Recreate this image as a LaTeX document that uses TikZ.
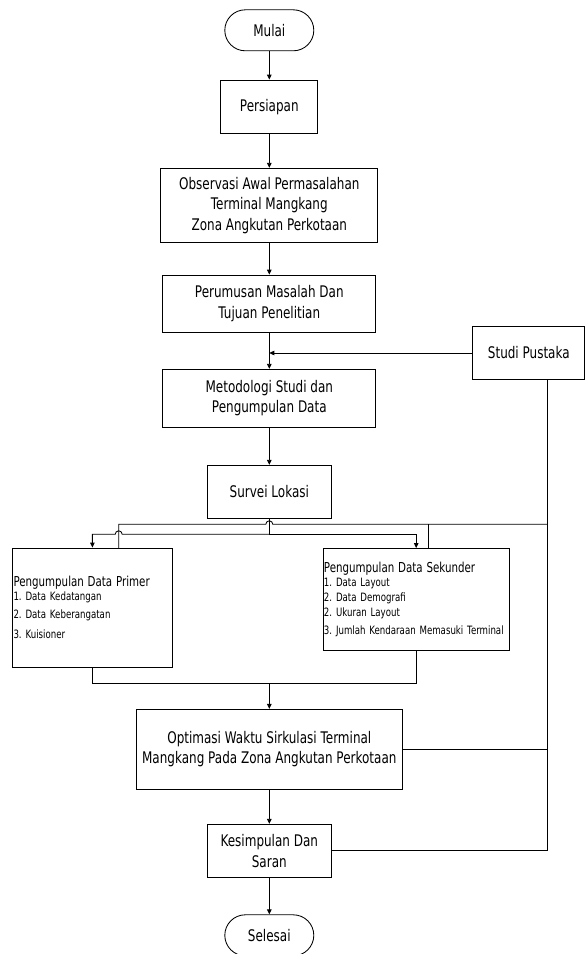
\documentclass[tikz,border=0pt]{standalone}
\usepackage{fontspec}
\setmainfont{DejaVu Sans}[FakeStretch=0.75]
\usetikzlibrary{arrows.meta,calc}
\frenchspacing
\begin{document}
\begin{tikzpicture}[x=1pt,y=-1pt,
  box/.style={draw,line width=0.85pt,rectangle,align=center,inner sep=1pt,font=\fontsize{16}{20.5}\selectfont},
  term/.style={box,rounded corners=20.5pt},
  arr/.style={line width=0.85pt,-{Triangle[length=5pt,width=4.5pt]}},
  ln/.style={line width=0.85pt},
  listbox/.style={draw,line width=0.85pt,rectangle,align=left,inner xsep=1pt,inner ysep=0pt,font=\fontsize{11.5}{14.5}\selectfont}]
\useasboundingbox (0,0) rectangle (585,954);
\fill[white] (0,0) rectangle (585,954);

\node[term,minimum width=89pt,minimum height=41pt] (mulai) at (269.3,30.3) {Mulai};
\node[box,minimum width=97pt,minimum height=53.3pt] (persiapan) at (269.3,106.7) {Persiapan};
\node[box,minimum width=217pt,minimum height=74pt] (observasi) at (269.3,205.3) {Observasi Awal Permasalahan\\Terminal Mangkang\\Zona Angkutan Perkotaan};
\node[box,minimum width=213pt,minimum height=57.3pt] (perumusan) at (269.3,303.7) {Perumusan Masalah Dan\\Tujuan Penelitian};
\node[box,minimum width=213pt,minimum height=58pt] (metodologi) at (269.3,398.3) {Metodologi Studi dan\\Pengumpulan Data};
\node[box,minimum width=112pt,minimum height=52.6pt] (studi) at (528.8,353) {Studi Pustaka};
\node[box,minimum width=124pt,minimum height=53pt] (survei) at (269.3,491.8) {Survei Lokasi};
\node[listbox,minimum width=159.8pt,minimum height=119pt,text width=157.8pt] (primer) at (92.4,607.5)
  {{\fontsize{13.7}{14.5}\selectfont Pengumpulan Data Primer}\\
   1. Data Kedatangan\\[3.5pt]
   2. Data Keberangatan\\[5.5pt]
   3. Kuisioner};
\node[listbox,minimum width=186.5pt,minimum height=102pt,text width=184.5pt] (sekunder) at (416.2,599.5)
  {{\fontsize{13.7}{14.5}\selectfont Pengumpulan Data Sekunder}\\
   1. Data Layout\\[0.5pt]
   2. Data Demografi\\
   2. Ukuran Layout\\[4pt]
   3. Jumlah Kendaraan Memasuki Terminal};
\node[box,minimum width=266.3pt,minimum height=79.7pt] (optimasi) at (269.3,749.2) {Optimasi Waktu Sirkulasi Terminal\\Mangkang Pada Zona Angkutan Perkotaan};
\node[box,minimum width=124pt,minimum height=53pt] (kesimpulan) at (269.3,850.8) {Kesimpulan Dan\\Saran};
\node[term,minimum width=89pt,minimum height=41pt] (selesai) at (269.3,935.3) {Selesai};

% main flow
\draw[arr] (mulai.south) -- (persiapan.north);
\draw[arr] (persiapan.south) -- (observasi.north);
\draw[arr] (observasi.south) -- (perumusan.north);
\draw[arr] (perumusan.south) -- (metodologi.north);
\draw[arr] (studi.west) -- (studi.west -| perumusan.south);
\draw[arr] (metodologi.south) -- (survei.north);

% studi pustaka feed line
\coordinate (sp) at (547.7,379.3);
\coordinate (hopA) at (269.3,524.3);
\coordinate (pf) at (118.7,548);
\coordinate (sf) at (428.5,548.5);
\draw[ln] (sp) -- (sp |- kesimpulan.east) -- (kesimpulan.east);
\draw[ln] (optimasi.east) -- (optimasi.east -| sp);
\draw[ln] (sp |- hopA) -- ($(hopA)+(3.5,0)$) arc[start angle=0,end angle=180,radius=3.5pt] -- (pf |- hopA) -- (pf);
\draw[ln] (sf |- hopA) -- (sf);

% survei split
\coordinate (j) at (269.3,534.3);
\draw[ln] (survei.south) -- (j);
\draw[arr] (j) -- ($(pf |- j)+(3.5,0)$) arc[start angle=0,end angle=180,radius=3.5pt] -- (primer.north |- j) -- (primer.north);
\draw[arr] (j) -- (sekunder.north |- j) -- (sekunder.north);

% merge
\coordinate (b) at (269.3,683);
\draw[ln] (primer.south) -- (primer.south |- b) -- (sekunder.south |- b) -- (sekunder.south);
\draw[arr] (b) -- (optimasi.north);
\draw[arr] (optimasi.south) -- (kesimpulan.north);
\draw[arr] (kesimpulan.south) -- (selesai.north);
\end{tikzpicture}
\end{document}
